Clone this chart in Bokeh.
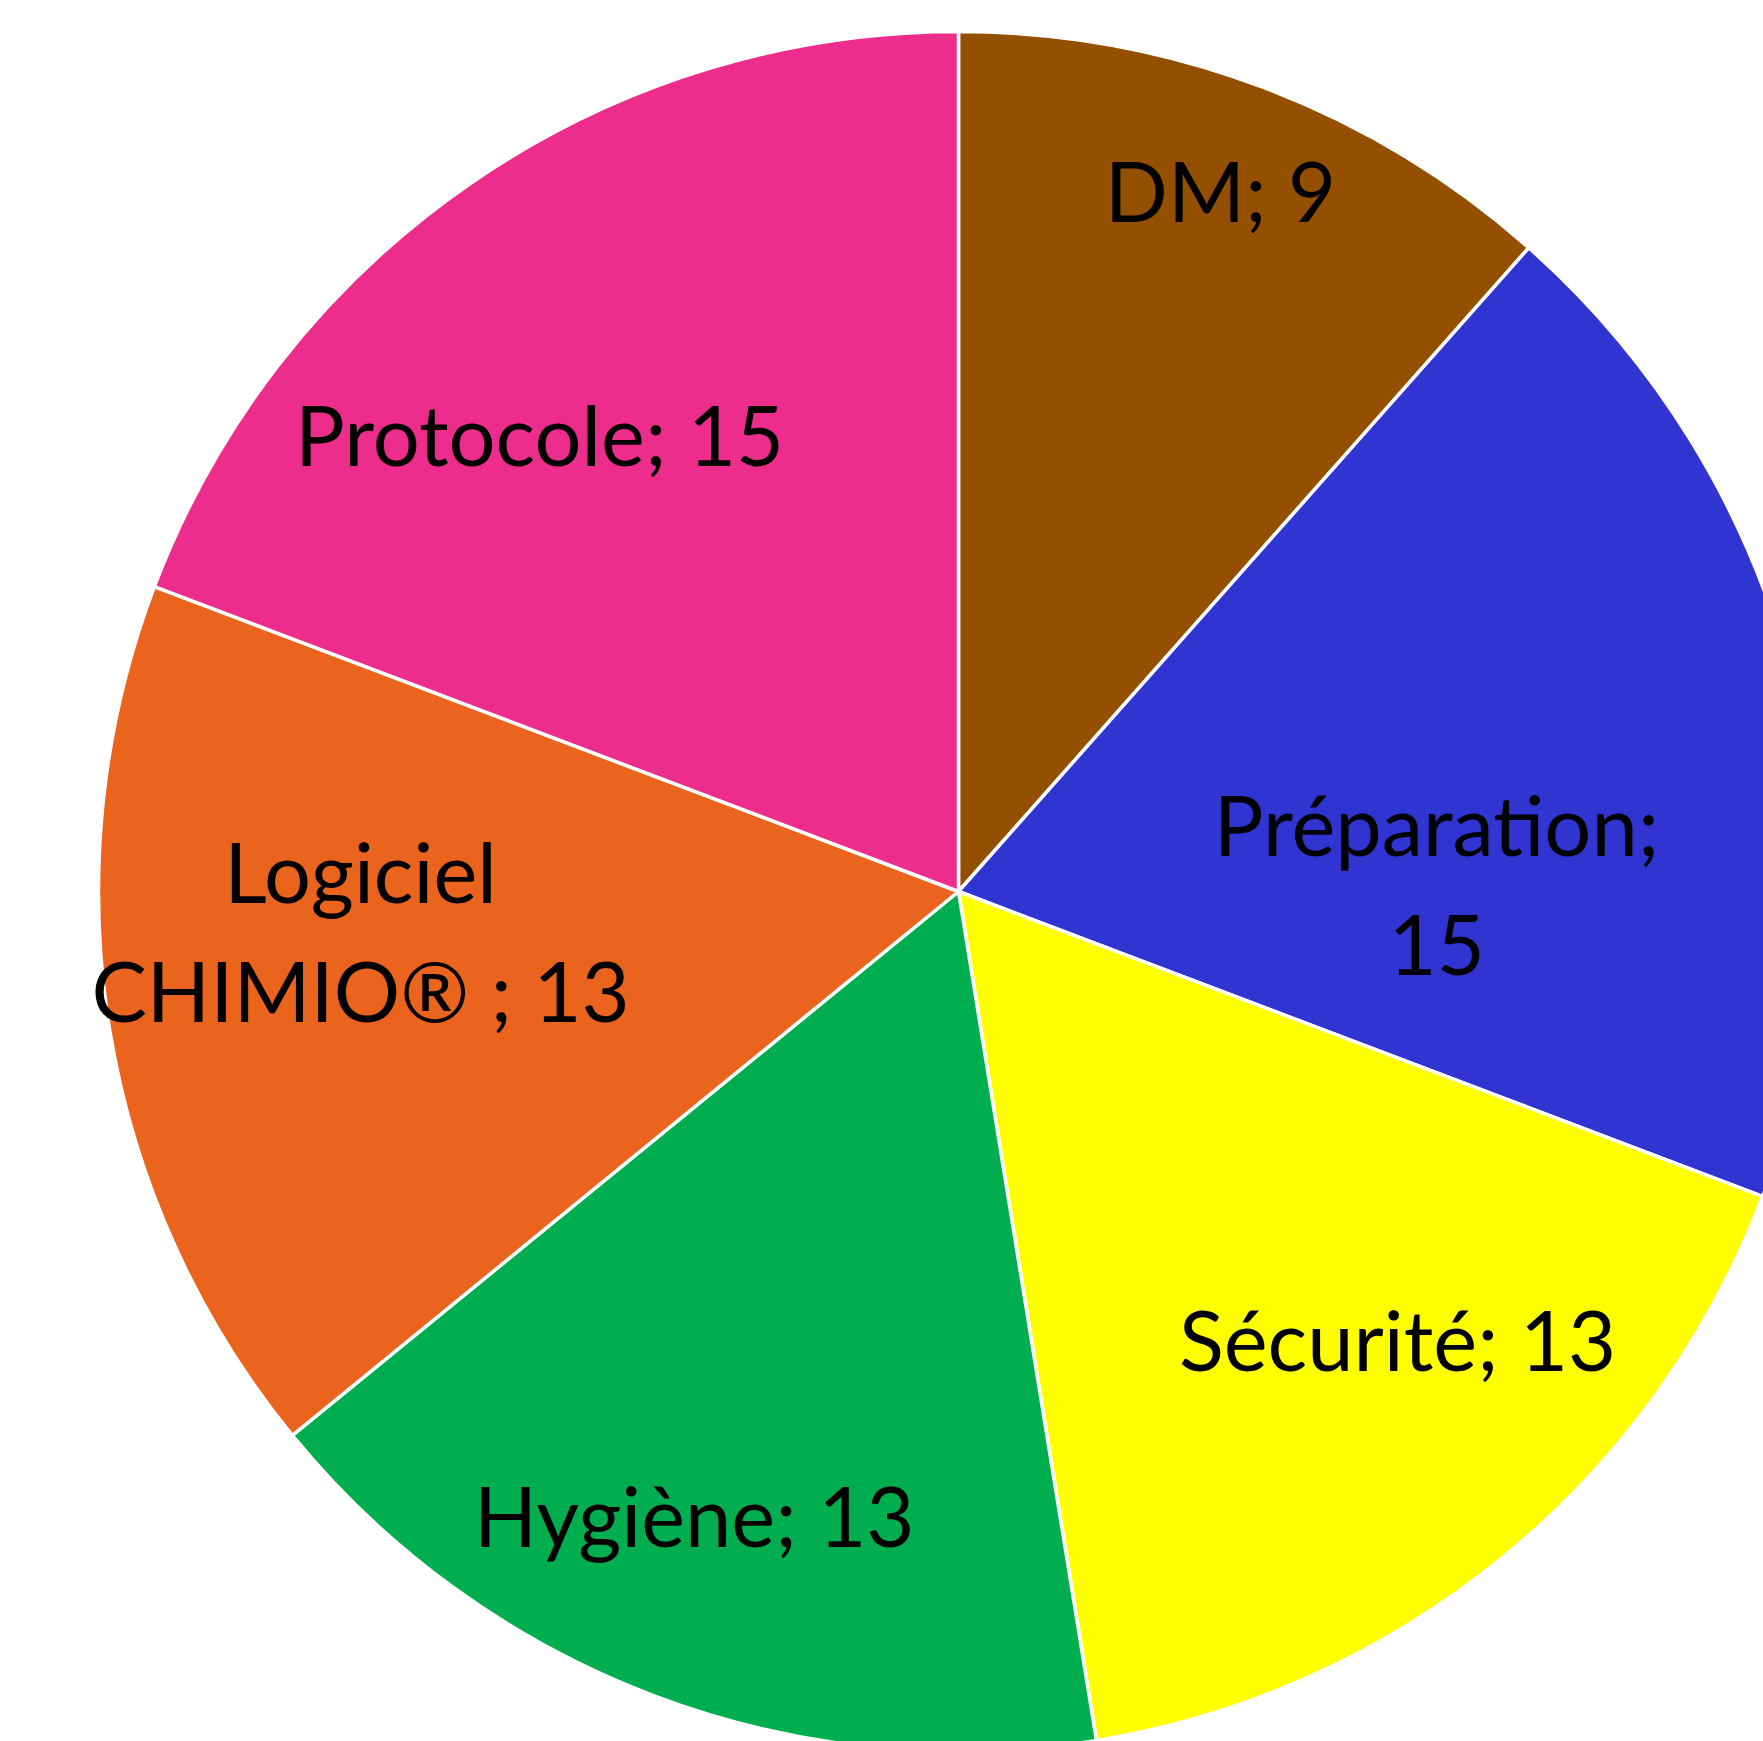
import numpy as np
from bokeh.plotting import figure
from bokeh.models import Range1d, ColumnDataSource
from bokeh.core.properties import value
from bokeh.embed import file_html
from bokeh.resources import INLINE

# ---- data ----
categories = ["DM", "Préparation", "Sécurité", "Hygiène", "Logiciel\nCHIMIO® ", "Protocole"]
values = [9, 15, 13, 13, 13, 15]
label_text = ["DM; 9", "Préparation;\n15", "Sécurité; 13", "Hygiène; 13",
              "Logiciel\nCHIMIO® ; 13", "Protocole; 15"]

# ---- style / layout ----
colors = ["#954F00", "#3034D1", "#FFFF00", "#00AE4F", "#EA641E", "#EC2D8C"]
label_r_frac = [0.867, 0.556, 0.732, 0.791, 0.697, 0.718]
label_shift_deg = [-0.2, 13.3, -5.0, 2.1, 5.2, -8.1]
label_dy = 3.5

W, H = 1763, 1741
cx, cy, R = 958.0, 850.0, 860.0

vals = np.array(values, dtype=float)
total = vals.sum()
cum = np.concatenate([[0], np.cumsum(vals)])
# clockwise from 12 o'clock
a_start_cw = cum[:-1] / total * 2 * np.pi
a_end_cw = cum[1:] / total * 2 * np.pi
start_angle = np.pi / 2 - a_end_cw
end_angle = np.pi / 2 - a_start_cw

mid_cw = (a_start_cw + a_end_cw) / 2 + np.radians(label_shift_deg)
lx = cx + R * np.array(label_r_frac) * np.sin(mid_cw)
ly = cy + R * np.array(label_r_frac) * np.cos(mid_cw) + label_dy

src = ColumnDataSource(dict(cat=categories, start=start_angle, end=end_angle,
                            color=colors, x=[cx] * len(values), y=[cy] * len(values)))
lab = ColumnDataSource(dict(x=lx, y=ly, text=label_text))

p = figure(width=W, height=H, x_range=Range1d(0, W), y_range=Range1d(0, H),
           output_backend="svg", toolbar_location=None, min_border=0)
p.axis.visible = False
p.grid.visible = False
p.outline_line_color = None
p.background_fill_color = "white"
p.border_fill_color = "white"

p.wedge(x="x", y="y", radius=R, start_angle="start", end_angle="end",
        fill_color="color", line_color="white", line_width=3.5, source=src)

p.text(x="x", y="y", text="text", source=lab, text_align="center",
       text_baseline="middle", text_font=value("Lato"), text_font_size="83px",
       text_color="black", text_line_height=1.19)

open("out.html", "w").write(file_html(p, INLINE))
